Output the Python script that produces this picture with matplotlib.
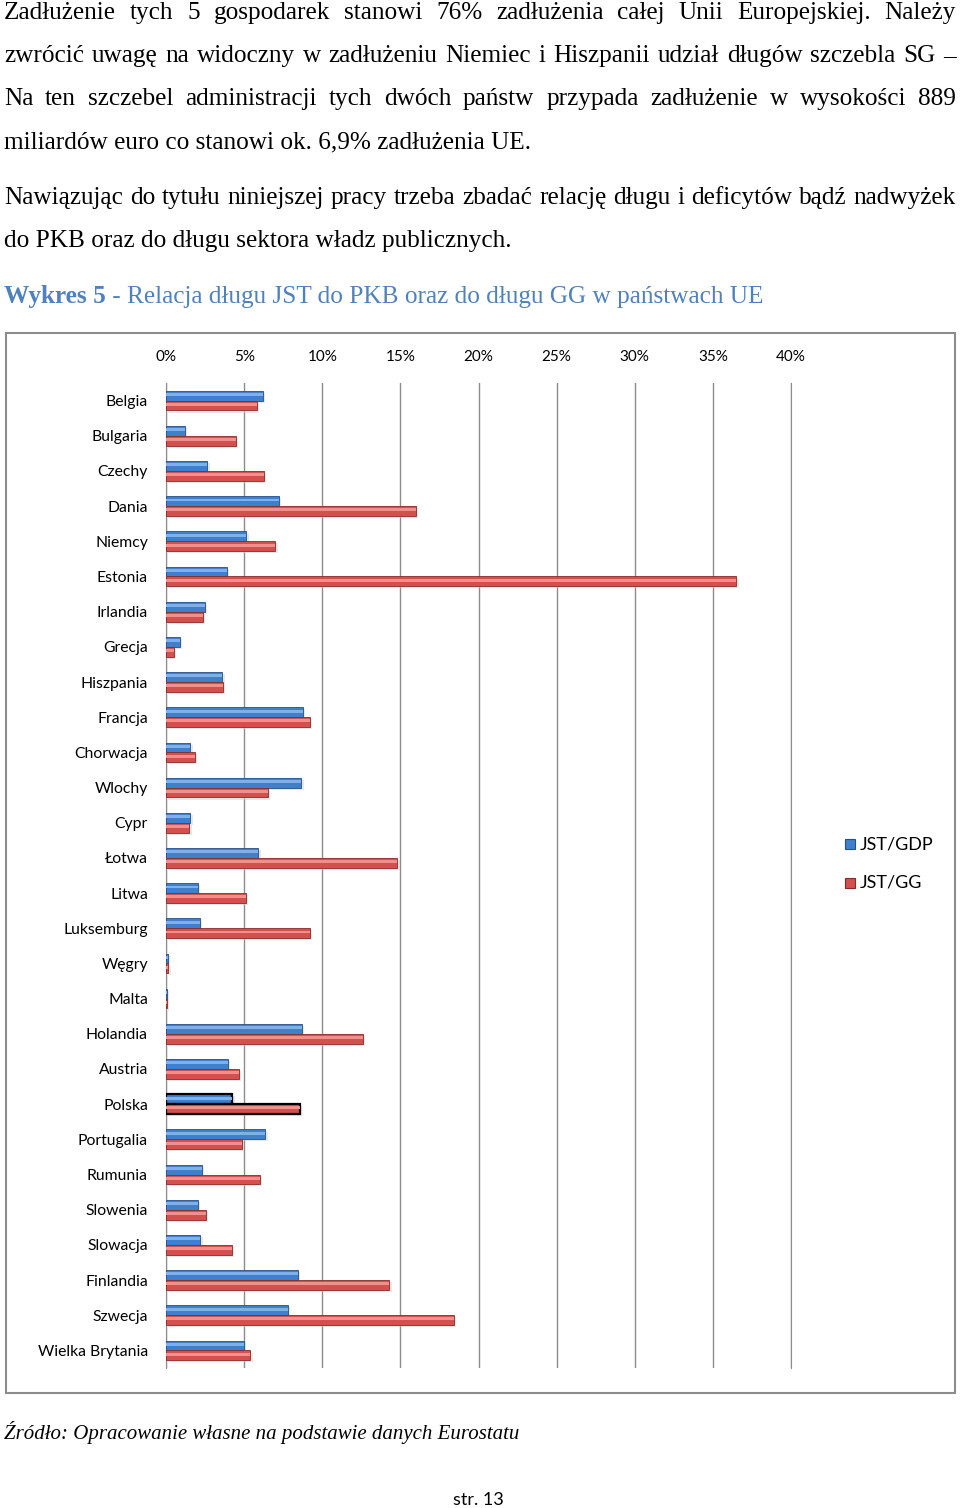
import numpy as np
import matplotlib
matplotlib.use("Agg")
import matplotlib.pyplot as plt
from matplotlib.patches import Rectangle

# dane wykresu ###############################
kraje = ["Belgia", "Bulgaria", "Czechy", "Dania", "Niemcy", "Estonia",
         "Irlandia", "Grecja", "Hiszpania", "Francja", "Chorwacja", "Wlochy",
         "Cypr", "Łotwa", "Litwa", "Luksemburg", "Węgry", "Malta", "Holandia",
         "Austria", "Polska", "Portugalia", "Rumunia", "Slowenia", "Slowacja",
         "Finlandia", "Szwecja", "Wielka Brytania"]
jst_gdp = [6.2, 1.2, 2.65, 7.2, 5.15, 3.9, 2.5, 0.9, 3.6, 8.75, 1.55, 8.65,
           1.55, 5.9, 2.05, 2.15, 0.1, 0.05, 8.7, 3.95, 4.25, 6.35, 2.3, 2.05,
           2.2, 8.45, 7.8, 5.0]
jst_gg = [5.8, 4.45, 6.25, 16.0, 7.0, 36.5, 2.35, 0.5, 3.65, 9.2, 1.85, 6.5,
          1.5, 14.8, 5.1, 9.2, 0.15, 0.05, 12.6, 4.65, 8.55, 4.85, 6.0, 2.55,
          4.2, 14.3, 18.4, 5.4]
x_ticks = [0, 5, 10, 15, 20, 25, 30, 35, 40]
seria = ["JST/GDP", "JST/GG"]

para1 = ["Zadłużenie tych 5 gospodarek stanowi 76% zadłużenia całej Unii Europejskiej. Należy",
         "zwrócić uwagę na widoczny w zadłużeniu Niemiec i Hiszpanii udział długów szczebla SG –",
         "Na ten szczebel administracji tych dwóch państw przypada zadłużenie w wysokości 889",
         "miliardów euro co stanowi ok. 6,9% zadłużenia UE."]
para2 = ["Nawiązując do tytułu niniejszej pracy trzeba zbadać relację długu i deficytów bądź nadwyżek",
         "do PKB oraz do długu sektora władz publicznych."]

W, H = 960, 1508
fig = plt.figure(figsize=(W / 100, H / 100), dpi=100, facecolor='w')
renderer = fig.canvas.get_renderer()
serif = "Liberation Serif"
fs_txt = 18.2


def fx(px):
    return px / W


def fy(py):
    return 1 - py / H


def line_text(txt, y, x0=4, x1=956, justify=True, size=fs_txt):
    """wyjustowana linia tekstu: kazde slowo osobno"""
    if not justify:
        fig.text(fx(x0), fy(y), txt, family=serif, fontsize=size,
                 va='center', ha='left')
        return
    words = txt.split(" ")
    objs = [fig.text(0, fy(y), w, family=serif, fontsize=size,
                     va='center', ha='left') for w in words]
    widths = [o.get_window_extent(renderer).width for o in objs]
    gap = (x1 - x0 - sum(widths)) / (len(words) - 1)
    x = x0
    for o, w in zip(objs, widths):
        o.set_x(fx(x))
        x += w + gap


ys1 = [13, 56, 99, 142]
for i, l in enumerate(para1):
    line_text(l, ys1[i], justify=(i < 3))
ys2 = [198, 241]
for i, l in enumerate(para2):
    line_text(l, ys2[i], justify=(i < 1))

# tytul wykresu
blue_t = "#4F81BD"
t1 = fig.text(fx(4), fy(297), "Wykres 5", family=serif, fontsize=fs_txt,
              weight='bold', color=blue_t, va='center')
w1 = t1.get_window_extent(renderer).width
fig.text(fx(4 + w1), fy(297), " - Relacja długu JST do PKB oraz do długu GG w państwach UE",
         family=serif, fontsize=fs_txt, color=blue_t, va='center')

# ramka wykresu
fig.patches.append(Rectangle((fx(6), fy(1393)), fx(949), (1393 - 333) / H,
                             transform=fig.transFigure, fill=False,
                             edgecolor='#8c8c8c', linewidth=1.5))

# _plot_command_############################
ax = fig.add_axes([fx(166), fy(1368), fx(625), (1368 - 383) / H])
y = np.arange(len(kraje))
h = 0.28
c_blue, c_blue_l, c_blue_d = "#3f7fcb", "#7fb0ea", "#24508a"
c_red, c_red_l, c_red_d = "#d2504d", "#f08f8c", "#8a2a28"

edge_b = ['black' if k == "Polska" else c_blue_d for k in kraje]
edge_r = ['black' if k == "Polska" else c_red_d for k in kraje]
lw_b = [1.6 if k == "Polska" else 0.6 for k in kraje]

# cien
ax.barh(y - h / 2 + 0.06, jst_gdp, height=h, left=0.15, color='#d0d0d0',
        alpha=0.5, zorder=2)
ax.barh(y + h / 2 + 0.06, jst_gg, height=h, left=0.15, color='#d0d0d0',
        alpha=0.5, zorder=2)
# slupki
ax.barh(y - h / 2, jst_gdp, height=h, color=c_blue, edgecolor=edge_b,
        linewidth=lw_b, zorder=3, label=seria[0])
ax.barh(y + h / 2, jst_gg, height=h, color=c_red, edgecolor=edge_r,
        linewidth=lw_b, zorder=3, label=seria[1])
# odblysk 3D
ax.barh(y - h / 2 - h * 0.12, jst_gdp, height=h * 0.3, color=c_blue_l,
        linewidth=0, zorder=4)
ax.barh(y + h / 2 - h * 0.12, jst_gg, height=h * 0.3, color=c_red_l,
        linewidth=0, zorder=4)

ax.set_xlim(0, 40)
ax.set_ylim(len(kraje) - 0.5, -0.5)
ax.set_xticks(x_ticks)
ax.set_xticklabels([f"{v}%" for v in x_ticks], family="Lato", fontsize=11)
ax.xaxis.tick_top()
ax.tick_params(axis='x', length=0, pad=14)
ax.set_yticks(y)
ax.set_yticklabels(kraje, family="Lato", fontsize=11.3)
ax.tick_params(axis='y', length=0, pad=13)
ax.grid(axis='x', color='#8c8c8c', linewidth=1.0, zorder=0)
ax.set_axisbelow(True)
for s in ['top', 'bottom']:
    ax.spines[s].set_visible(False)
ax.spines['left'].set_color('#8c8c8c')
ax.spines['right'].set_color('#8c8c8c')

# legenda
cols = [(c_blue, c_blue_d), (c_red, c_red_d)]
for i, (nm, (c, cd)) in enumerate(zip(seria, cols)):
    yy = 844 + 39 * i
    fig.patches.append(Rectangle((fx(845), fy(yy + 5)), fx(10), 10 / H,
                                 transform=fig.transFigure, facecolor=c,
                                 edgecolor=cd, linewidth=0.8))
    fig.text(fx(860), fy(yy), nm, family="Lato", fontsize=13, va='center')

# zrodlo i numer strony
fig.text(fx(4), fy(1432), "Źródło: Opracowanie własne na podstawie danych Eurostatu",
         family=serif, fontsize=15, style='italic', va='center')
fig.text(fx(453), fy(1500), "str. 13", family="Lato", fontsize=13, va='center')

fig.savefig("out.png", dpi=100, facecolor='w')
